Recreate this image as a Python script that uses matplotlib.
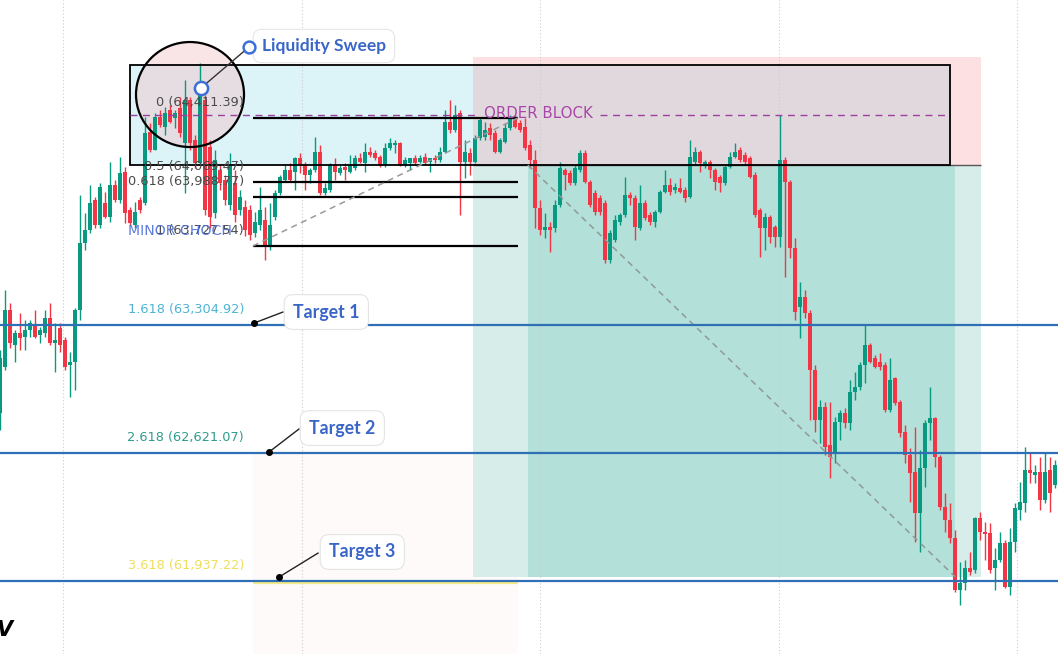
import numpy as np
import matplotlib.pyplot as plt
from matplotlib.patches import Rectangle, Ellipse

# 15-minute style candles (price units)
opens = [
    62835, 63081, 63386, 63199, 63263, 63241, 63279, 63305, 63252, 63263,
    63343, 63209, 63290, 63226, 63092, 63108, 63386, 63744, 63813, 63973,
    63840, 63957, 63883, 64054, 63973, 64123, 63920, 63840, 63973, 63957,
    64337, 64241, 64417, 64363, 64454, 64411, 64465, 64278, 64508, 64294,
    64171, 64508, 64257, 63904, 64134, 64080, 63947, 64064, 63920, 63936,
    63920, 63797, 63840, 63866, 63722, 63883, 64011, 64080, 64134, 64123,
    64198, 64160, 64107, 64134, 64230, 64011, 64027, 64160, 64118, 64150,
    64123, 64144, 64198, 64171, 64230, 64225, 64203, 64160, 64251, 64267,
    64278, 64160, 64171, 64198, 64176, 64203, 64176, 64198, 64187, 64230,
    64390, 64347, 64438, 64176, 64225, 64176, 64305, 64310, 64358, 64331,
    64230, 64283, 64358, 64411, 64385, 64363, 64267, 64187, 63931, 63813,
    63829, 63824, 63947, 64134, 64118, 64064, 64134, 64225, 64070, 64011,
    63984, 63957, 63653, 63760, 63856, 63893, 64000, 63984, 63824, 63957,
    63893, 63856, 63909, 64016, 64054, 64027, 64037, 64027, 63989, 64176,
    64230, 64160, 64176, 64134, 64096, 64064, 64150, 64203, 64241, 64214,
    64198, 64107, 63920, 63824, 63883, 63829, 63776, 64187, 64070, 63717,
    63402, 63455, 63370, 63065, 62798, 62867, 62664, 62622, 62787, 62835,
    62782, 62947, 62974, 63092, 63199, 63129, 63108, 63092, 62852, 63023,
    62894, 62734, 62611, 62520, 62301, 62541, 62782, 62809, 62600, 62333,
    62264, 62167, 61890, 61927, 62007, 61996, 62274, 62200, 62194, 62007,
    62050, 62141, 61906, 62146, 62317, 62354, 62531, 62504, 62520, 62370,
    62531, 62451,
]
highs = [
    63172, 63493, 63423, 63279, 63370, 63332, 63332, 63386, 63295, 63386,
    63423, 63316, 63316, 63241, 63161, 63396, 64000, 63904, 64054, 63989,
    64064, 64016, 64176, 64080, 64203, 64150, 63936, 63963, 63989, 64417,
    64385, 64438, 64454, 64470, 64481, 64454, 64524, 64615, 64524, 64321,
    64705, 64534, 64294, 64241, 64160, 64107, 64225, 64134, 64027, 63973,
    63947, 63909, 64043, 63936, 63957, 64027, 64107, 64160, 64171, 64203,
    64225, 64176, 64144, 64310, 64267, 64064, 64171, 64198, 64160, 64171,
    64214, 64214, 64225, 64278, 64257, 64241, 64214, 64278, 64305, 64294,
    64283, 64203, 64198, 64214, 64214, 64225, 64198, 64214, 64257, 64454,
    64508, 64481, 64454, 64294, 64251, 64321, 64411, 64390, 64385, 64347,
    64305, 64385, 64428, 64428, 64401, 64411, 64294, 64241, 63973, 63904,
    63856, 63973, 64176, 64144, 64134, 64160, 64241, 64241, 64080, 64027,
    64000, 63973, 63813, 63893, 63904, 64096, 64016, 64000, 64054, 63973,
    63909, 63920, 64027, 64134, 64091, 64064, 64091, 64043, 64294, 64257,
    64241, 64187, 64187, 64144, 64107, 64160, 64230, 64278, 64257, 64230,
    64209, 64123, 63931, 63904, 63893, 63840, 64428, 64203, 64080, 63770,
    63535, 63493, 63386, 63092, 62905, 62894, 62894, 62814, 62852, 62862,
    63012, 63054, 63108, 63305, 63209, 63145, 63156, 63108, 63129, 63028,
    62905, 62771, 62648, 62761, 62638, 62798, 62974, 62814, 62611, 62408,
    62354, 62210, 62039, 62050, 62093, 62280, 62306, 62253, 62248, 62114,
    62200, 62157, 62221, 62354, 62467, 62654, 62622, 62557, 62600, 62627,
    62600, 62584,
]
lows = [
    62745, 63065, 63183, 63108, 63172, 63172, 63241, 63236, 63209, 63241,
    63199, 63054, 63161, 63065, 62921, 62958, 63332, 63706, 63797, 63824,
    63824, 63877, 63856, 63963, 63957, 63850, 63840, 63824, 63904, 63947,
    64230, 64241, 64363, 64321, 64385, 64358, 64310, 64011, 64241, 64144,
    64160, 63893, 63824, 63877, 64027, 63947, 63920, 63856, 63893, 63781,
    63760, 63776, 63813, 63653, 63706, 63866, 64000, 64070, 64070, 64027,
    64118, 64027, 64064, 64123, 64000, 64000, 64016, 64080, 64107, 64080,
    64118, 64134, 64171, 64123, 64203, 64187, 64150, 64150, 64241, 64225,
    64155, 64150, 64134, 64160, 64171, 64160, 64123, 64171, 64176, 64225,
    64331, 64337, 63893, 64091, 64107, 64171, 64294, 64294, 64294, 64225,
    64225, 64278, 64347, 64358, 64337, 64241, 64144, 63824, 63786, 63770,
    63696, 63802, 63936, 64027, 64054, 64054, 64123, 64064, 63936, 63893,
    63893, 63637, 63637, 63749, 63840, 63883, 63947, 63760, 63813, 63866,
    63840, 63829, 63904, 64011, 64000, 64011, 64011, 63963, 63984, 64160,
    64123, 64144, 64091, 64027, 64016, 64054, 64144, 64198, 64176, 64166,
    64091, 63883, 63669, 63706, 63744, 63722, 63722, 63562, 63663, 63332,
    63236, 63343, 62798, 62734, 62675, 62611, 62488, 62568, 62691, 62755,
    62745, 62905, 62958, 62996, 63103, 63076, 63065, 62841, 62841, 62878,
    62707, 62568, 62360, 62146, 62093, 62440, 62691, 62547, 62317, 62200,
    62141, 61879, 61810, 61890, 61970, 61981, 62157, 62050, 61981, 61890,
    62039, 61900, 61863, 62093, 62264, 62306, 62461, 62461, 62317, 62354,
    62306, 62435,
]
closes = [
    63129, 63386, 63209, 63263, 63236, 63279, 63316, 63241, 63279, 63343,
    63209, 63226, 63199, 63081, 63108, 63386, 63744, 63813, 63957, 63840,
    64043, 63883, 64054, 63973, 64118, 63904, 63850, 63909, 63920, 64331,
    64241, 64417, 64374, 64438, 64390, 64438, 64331, 64508, 64278, 64171,
    64572, 63920, 63883, 64187, 64064, 63973, 64160, 63893, 63989, 63813,
    63786, 63856, 63920, 63722, 63840, 64011, 64096, 64134, 64080, 64198,
    64160, 64107, 64134, 64230, 64011, 64037, 64160, 64123, 64144, 64134,
    64160, 64198, 64176, 64230, 64214, 64198, 64160, 64251, 64278, 64278,
    64160, 64187, 64198, 64171, 64198, 64171, 64198, 64187, 64230, 64390,
    64347, 64428, 64176, 64230, 64176, 64305, 64401, 64347, 64321, 64230,
    64294, 64358, 64411, 64363, 64347, 64251, 64187, 63931, 63813, 63829,
    63813, 63947, 64144, 64107, 64064, 64144, 64225, 64070, 63947, 63909,
    63909, 63653, 63797, 63866, 63893, 64000, 63984, 63829, 63957, 63877,
    63856, 63909, 64016, 64054, 64016, 64043, 64016, 63984, 64203, 64230,
    64171, 64176, 64134, 64070, 64064, 64150, 64203, 64230, 64187, 64176,
    64096, 63893, 63824, 63883, 63776, 63776, 64187, 64070, 63717, 63375,
    63455, 63370, 63065, 62798, 62867, 62654, 62600, 62787, 62835, 62782,
    62947, 62974, 63092, 63199, 63108, 63081, 63081, 62852, 63012, 62889,
    62728, 62611, 62515, 62301, 62541, 62782, 62809, 62600, 62333, 62264,
    62167, 61890, 61927, 62007, 61986, 62274, 62200, 62189, 61996, 62050,
    62141, 61906, 62146, 62328, 62360, 62531, 62515, 62520, 62370, 62520,
    62408, 62557,
]

# Fibonacci levels shown on the chart
fib_ratios = ["0", "0.5", "0.618", "1", "1.618", "2.618", "3.618"]
fib_prices = [64411.39, 64069.47, 63988.77, 63727.54, 63304.92, 62621.07, 61937.22]
fib_text_colors = ["#4a4a4a", "#4a4a4a", "#4a4a4a", "#4a4a4a", "#4cb4d4", "#2f9c8c", "#eede5a"]
target_labels = ["Target 1", "Target 2", "Target 3"]

GREEN = "#089981"
RED = "#f23645"
BLUE_TXT = "#3a66c8"

fig = plt.figure(figsize=(10.58, 6.54), dpi=100)
ax = fig.add_axes([0, 0, 1, 1])
ax.set_xlim(-0.06, 211.54)
ax.set_ylim(61548, 65042)
ax.axis("off")

# zones: order block, short position (stop / target)
ax.add_patch(Rectangle((94.5, 64160), 101.6, 577, fc="#fde0e2", ec="none", zorder=0.5))
ax.add_patch(Rectangle((25.9, 64160), 68.6, 535, fc="#dcf3f8", ec="none", zorder=0.6))
ax.add_patch(Rectangle((94.5, 64160), 95.4, 535, fc="#e1d8de", ec="none", zorder=0.6))
ax.add_patch(Rectangle((94.5, 61960), 101.6, 2200, fc="#d6ede9", ec="none", zorder=0.5))
ax.add_patch(Rectangle((105.5, 61960), 85.5, 2200, fc="#b3e0d8", ec="none", zorder=0.6))
ax.add_patch(Rectangle((50.5, 61548), 53.0, 1075, fc="#fffafa", ec="none", zorder=0.4))

# vertical dotted grid
for gx in [12.54, 60.34, 107.94, 155.74, 203.34]:
    ax.axvline(gx, color="#cccccc", lw=0.8, ls=(0, (1, 2)), zorder=0.8)

# the liquidity sweep circle (fill under candles)
ax.add_patch(Ellipse((37.94, 64537), 21.6, 561, fc="#f2c4c8", alpha=0.45, ec="none", zorder=0.9))

# candles
x = np.arange(len(opens))
o = np.array(opens, float)
h = np.array(highs, float)
l = np.array(lows, float)
c = np.array(closes, float)
cols = np.where(c >= o, GREEN, RED)
ax.vlines(x, l, h, colors=cols, lw=1.0, zorder=2)
ax.bar(x, np.maximum(np.abs(c - o), 6), bottom=np.minimum(o, c), width=0.8,
       color=cols, edgecolor="none", zorder=2.1)

# order block box and entry line
ax.add_patch(Rectangle((25.9, 64160), 164.0, 535, fill=False, ec="black", lw=1.3, zorder=3))
ax.hlines(64160, 94.5, 196.1, color="#555555", lw=1.0, zorder=2.9)
ax.hlines(64428, 25.9, 95.9, color="#9c3fa0", lw=1.0, linestyles=(0, (5, 4)), zorder=3)
ax.hlines(64428, 119.9, 189.9, color="#9c3fa0", lw=1.0, linestyles=(0, (5, 4)), zorder=3)
ax.text(107.6, 64433, "ORDER BLOCK", color="#a845a8", fontsize=10.8, ha="center",
        va="center", zorder=4)

# fib levels
for r, p, tc in zip(fib_ratios, fib_prices, fib_text_colors):
    if float(r) <= 1:
        ax.hlines(p, 50.5, 103.5, color="black", lw=1.6, zorder=3)
    ax.text(48.74, p + 82, f"{r} ({p:,.2f})", color=tc, fontsize=9.3, ha="right",
            va="center", zorder=5)
ax.hlines(fib_prices[6] - 12, 50.5, 103.5, color="#f3ea8a", lw=1.6, zorder=3)
for p in fib_prices[4:]:
    ax.axhline(p, color="#2f6fb6", lw=1.6, zorder=3.2)

# dashed trend lines
ax.plot([50.5, 103.5], [fib_prices[3], fib_prices[0]], color="#9a9a9a", lw=1.1,
        ls=(0, (4, 3)), zorder=3)
ax.plot([105.5, 191.0], [64160, 61960], color="#8f9a98", lw=1.1, ls=(0, (4, 3)), zorder=3)

ax.text(35.9, 63808, "MINOR CHOCH", color="#4a6fd8", fontsize=10.2, ha="center",
        va="center", alpha=0.9, zorder=5)

# circle outline + callout
ax.add_patch(Ellipse((37.94, 64537), 21.6, 561, fill=False, ec="black", lw=1.6, zorder=4))
ax.plot([40.14, 49.74], [64572, 64791], color="#333333", lw=1.0, zorder=4)
ax.text(52.3, 64796, "Liquidity Sweep", color=BLUE_TXT, fontsize=12.5, family="Lato",
        weight="bold", ha="left", va="center", zorder=5,
        bbox=dict(boxstyle="round,pad=0.5", fc="white", ec="#e6e6e6", lw=0.8))
ax.plot([40.14], [64572], "o", ms=9.5, mfc="white", mec="#3d6fd6", mew=1.8, zorder=6)
ax.plot([49.74], [64791], "o", ms=8.5, mfc="white", mec="#3d6fd6", mew=1.8, zorder=6)

# target callouts
dots_x = [50.74, 53.74, 55.74]
dots_y = [63316, 62627, 61959]
ends_x = [56.54, 59.74, 63.54]
ends_y = [63375, 62750, 62087]
lab_x = [65.2, 68.4, 72.4]
lab_y = [63375, 62755, 62093]
for lab, dx, dy, ex, ey, tx, ty in zip(target_labels, dots_x, dots_y, ends_x, ends_y, lab_x, lab_y):
    ax.plot([dx, ex], [dy, ey], color="#222222", lw=1.0, zorder=4)
    ax.plot([dx], [dy], "o", ms=4, color="black", zorder=4.5)
    ax.text(tx, ty, lab, color=BLUE_TXT, fontsize=12.8, family="Lato", weight="bold",
            ha="center", va="center", zorder=5,
            bbox=dict(boxstyle="round,pad=0.5", fc="white", ec="#e4e4e4", lw=0.8))

ax.text(-0.8, 61676, "V", fontsize=15, weight="bold", style="italic", color="black",
        ha="left", va="center", zorder=5)

fig.savefig("out.png", dpi=100, facecolor="white")
